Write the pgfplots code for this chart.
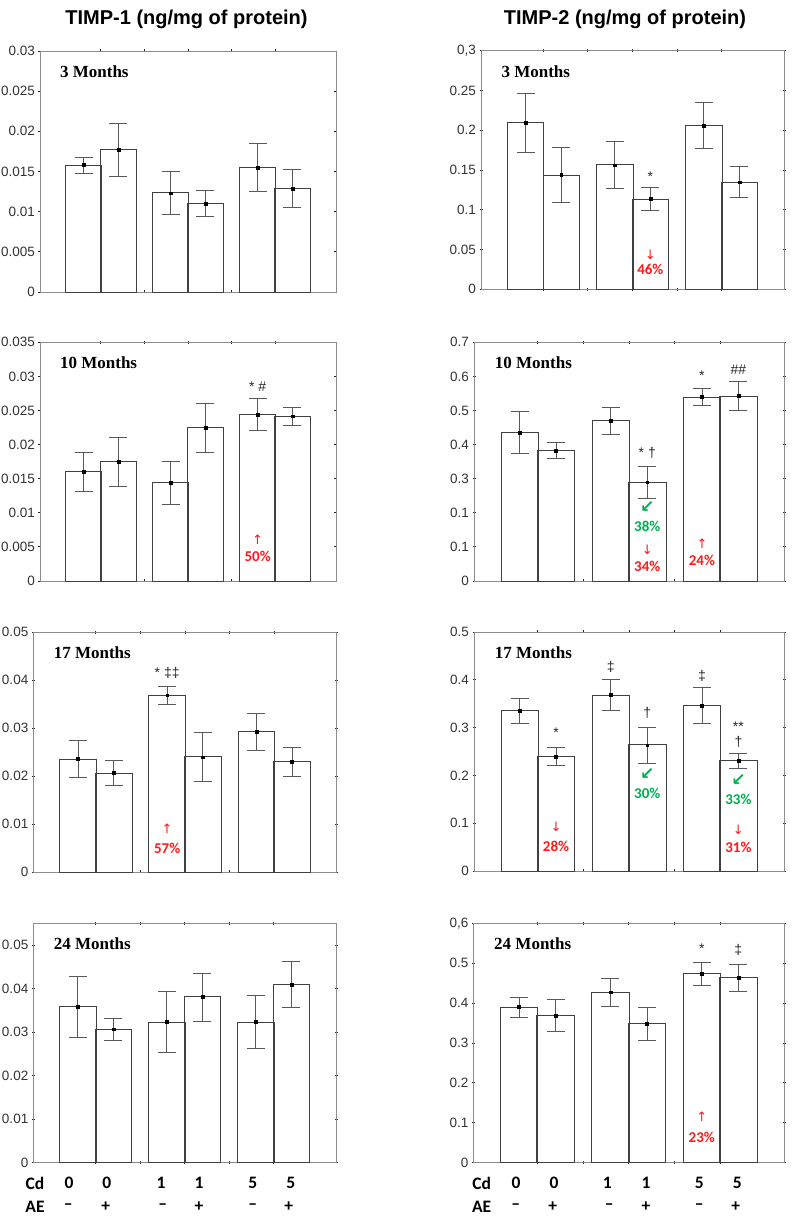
\documentclass[border=0pt]{standalone}
\usepackage{pgfplots}
\pgfplotsset{compat=1.18}
\usepackage{fontspec}
\setmainfont{Liberation Sans}
\newfontfamily\tnr{Liberation Serif}
\newfontfamily\carl{Carlito}
\newfontfamily\dv{DejaVu Sans}
\definecolor{annred}{HTML}{FF1A1A}
\definecolor{anngreen}{HTML}{00B050}
\pgfplotsset{
  panel/.style={scale only axis, anchor=south west, clip=false,
    xmin=0.3, xmax=3.7, ymin=0, scaled y ticks=false,
    xtick={1,1.5,2,2.5,3}, xticklabels={},
    tick align=center, major tick length=3pt,
    axis line style={black!45, line width=0.9pt},
    every tick/.style={black!85, line width=0.9pt},
    yticklabel style={font=\fontsize{13.5}{14}\selectfont, text=black!80},
  },
  bars/.style={ybar, bar width=0.41, bar shift=0pt, fill=white, draw=black!75, line width=0.8pt},
  errs/.style={only marks, black, mark=square*, mark size=1.4pt, mark options={black},
    error bars/.cd, y dir=both, y explicit,
    error bar style={black!65, line width=0.8pt},
    error mark options={black!65, line width=0.8pt, mark size=9pt, rotate=90}},
}
\newcommand{\plab}[1]{\node[anchor=west, font=\tnr\bfseries\fontsize{17}{17}\selectfont] at (rel axis cs:0.056,0.913) {#1};}
\newcommand{\sig}[3]{\node[inner sep=0pt, font=\fontsize{14}{14}\selectfont, text=black!85] at (axis cs:#1,#2) {#3};}
\newcommand{\pct}[4]{\node[inner sep=0pt, font=\carl\bfseries\fontsize{15}{14}\selectfont, text=#4] at (axis cs:#1,#2) {#3};}
\newcommand{\rarr}[3]{\node[inner sep=0pt, font=\dv\fontsize{13}{13}\selectfont, text=annred] at (axis cs:#1,#2) {#3};}
\newcommand{\garr}[2]{\node[inner sep=0pt, font=\dv\bfseries\fontsize{17}{17}\selectfont, text=anngreen] at (axis cs:#1,#2) {↙};}
\begin{document}
\begin{tikzpicture}
\path[use as bounding box] (0,0) rectangle (794pt,1217pt);
% titles
\node[font=\bfseries\fontsize{20}{20}\selectfont] at (186.5pt,1198pt) {TIMP-1 (ng/mg of protein)};
\node[font=\bfseries\fontsize{20}{20}\selectfont] at (625pt,1198pt) {TIMP-2 (ng/mg of protein)};

% ---------- L1 ----------
\begin{axis}[panel, at={(40pt,925pt)}, width=296pt, height=241pt, ymax=0.03,
  ytick={0,0.005,0.01,0.015,0.02,0.025,0.03},
  yticklabels={0,0.005,0.01,0.015,0.02,0.025,0.03}]
\addplot[bars] coordinates {(0.8,0.0158)(1.2,0.0177)(1.8,0.0124)(2.2,0.0110)(2.8,0.0155)(3.2,0.0129)};
\addplot[errs] coordinates {(0.8,0.0158)+-(0,0.0010)(1.2,0.0177)+-(0,0.0033)(1.8,0.0123)+-(0,0.0027)(2.2,0.0110)+-(0,0.0016)(2.8,0.0155)+-(0,0.0030)(3.2,0.01287)+-(0,0.0024)};
\plab{3 Months}
\end{axis}

% ---------- R1 ----------
\begin{axis}[panel, at={(481pt,927.7pt)}, width=303pt, height=238.6pt, ymax=0.3,
  ytick={0,0.05,0.1,0.15,0.2,0.25,0.3},
  yticklabels={0,0.05,0.1,0.15,0.2,0.25,{0,3}}]
\addplot[bars] coordinates {(0.8,0.210)(1.2,0.1437)(1.8,0.1567)(2.2,0.1135)(2.8,0.2057)(3.2,0.1349)};
\addplot[errs] coordinates {(0.8,0.2097)+-(0,0.037)(1.2,0.1442)+-(0,0.0348)(1.8,0.1561)+-(0,0.0296)(2.2,0.1138)+-(0,0.0141)(2.8,0.206)+-(0,0.0287)(3.2,0.1347)+-(0,0.0195)};
\plab{3 Months}
\sig{2.2}{0.1416}{*}
\rarr{2.2}{0.043}{↓}
\pct{2.2}{0.0255}{46\%}{annred}
\end{axis}

% ---------- L2 ----------
\begin{axis}[panel, at={(40pt,636pt)}, width=296pt, height=238.7pt, ymax=0.035,
  ytick={0,0.005,0.01,0.015,0.02,0.025,0.03,0.035},
  yticklabels={0,0.005,0.01,0.015,0.02,0.025,0.03,0.035}]
\addplot[bars] coordinates {(0.8,0.0160)(1.2,0.0175)(1.8,0.0144)(2.2,0.02254)(2.8,0.02439)(3.2,0.02415)};
\addplot[errs] coordinates {(0.8,0.0160)+-(0,0.0029)(1.2,0.0175)+-(0,0.0036)(1.8,0.0144)+-(0,0.0031)(2.2,0.02245)+-(0,0.0036)(2.8,0.0244)+-(0,0.00235)(3.2,0.02417)+-(0,0.0013)};
\plab{10 Months}
\sig{2.8}{0.0285}{* \#}
\rarr{2.8}{0.0061}{↑}
\pct{2.8}{0.0036}{50\%}{annred}
\end{axis}

% ---------- R2 ----------
\begin{axis}[panel, at={(474pt,636pt)}, width=310pt, height=238.7pt, ymax=0.7,
  ytick={0,0.1,0.2,0.3,0.4,0.5,0.6,0.7},
  yticklabels={0,0.1,0.1,0.3,0.4,0.5,0.6,0.7}]
\addplot[bars] coordinates {(0.8,0.435)(1.2,0.383)(1.8,0.470)(2.2,0.2894)(2.8,0.5396)(3.2,0.5425)};
\addplot[errs] coordinates {(0.8,0.4355)+-(0,0.061)(1.2,0.3827)+-(0,0.024)(1.8,0.4697)+-(0,0.0405)(2.2,0.290)+-(0,0.0474)(2.8,0.5396)+-(0,0.0244)(3.2,0.5431)+-(0,0.0425)};
\plab{10 Months}
\sig{2.8}{0.601}{*}
\sig{3.2}{0.619}{\#\#}
\sig{2.2}{0.377}{* †}
\garr{2.2}{0.216}
\pct{2.2}{0.159}{38\%}{anngreen}
\rarr{2.2}{0.091}{↓}
\pct{2.2}{0.042}{34\%}{annred}
\rarr{2.8}{0.11}{↑}
\pct{2.8}{0.0616}{24\%}{annred}
\end{axis}

% ---------- L3 ----------
\begin{axis}[panel, at={(33.3pt,345pt)}, width=303.4pt, height=239.7pt, ymax=0.05,
  ytick={0,0.01,0.02,0.03,0.04,0.05},
  yticklabels={0,0.01,0.02,0.03,0.04,0.05}]
\addplot[bars] coordinates {(0.8,0.02357)(1.2,0.02059)(1.8,0.03678)(2.2,0.02405)(2.8,0.02927)(3.2,0.0230)};
\addplot[errs] coordinates {(0.8,0.02357)+-(0,0.0039)(1.2,0.02065)+-(0,0.00265)(1.8,0.03686)+-(0,0.0019)(2.2,0.02395)+-(0,0.0051)(2.8,0.0292)+-(0,0.0038)(3.2,0.02298)+-(0,0.00295)};
\plab{17 Months}
\sig{1.8}{0.0416}{* ‡‡}
\rarr{1.8}{0.0091}{↑}
\pct{1.8}{0.0049}{57\%}{annred}
\end{axis}

% ---------- R3 ----------
\begin{axis}[panel, at={(474pt,346pt)}, width=310pt, height=239pt, ymax=0.5,
  ytick={0,0.1,0.2,0.3,0.4,0.5},
  yticklabels={0,0.1,0.2,0.3,0.4,0.5}]
\addplot[bars] coordinates {(0.8,0.3351)(1.2,0.2394)(1.8,0.368)(2.2,0.2639)(2.8,0.3456)(3.2,0.2304)};
\addplot[errs] coordinates {(0.8,0.3347)+-(0,0.026)(1.2,0.2398)+-(0,0.0185)(1.8,0.3683)+-(0,0.0317)(2.2,0.2633)+-(0,0.0377)(2.8,0.346)+-(0,0.038)(3.2,0.2304)+-(0,0.016)};
\plab{17 Months}
\sig{1.2}{0.29}{*}
\sig{1.8}{0.426}{‡}
\sig{2.2}{0.33}{†}
\sig{2.8}{0.4085}{‡}
\sig{3.2}{0.302}{**}
\sig{3.2}{0.27}{†}
\garr{2.2}{0.2025}
\pct{2.2}{0.163}{30\%}{anngreen}
\garr{3.2}{0.19}
\pct{3.2}{0.149}{33\%}{anngreen}
\rarr{1.2}{0.0915}{↓}
\pct{1.2}{0.051}{28\%}{annred}
\rarr{3.2}{0.086}{↓}
\pct{3.2}{0.049}{31\%}{annred}
\end{axis}

% ---------- L4 ----------
\begin{axis}[panel, at={(33.3pt,54.3pt)}, width=302.7pt, height=239.4pt, ymax=0.055,
  ytick={0,0.01,0.02,0.03,0.04,0.05},
  yticklabels={0,0.01,0.02,0.03,0.04,0.05}]
\addplot[bars] coordinates {(0.8,0.03586)(1.2,0.03057)(1.8,0.03234)(2.2,0.0381)(2.8,0.03234)(3.2,0.04085)};
\addplot[errs] coordinates {(0.8,0.0359)+-(0,0.0070)(1.2,0.03067)+-(0,0.0025)(1.8,0.03234)+-(0,0.0069)(2.2,0.03806)+-(0,0.0055)(2.8,0.03234)+-(0,0.0061)(3.2,0.0409)+-(0,0.0053)};
\plab{24 Months}
\end{axis}

% ---------- R4 ----------
\begin{axis}[panel, at={(473.3pt,54.3pt)}, width=310.7pt, height=239.4pt, ymax=0.6,
  ytick={0,0.1,0.2,0.3,0.4,0.5,0.6},
  yticklabels={0,0.1,0.2,0.3,0.4,0.5,{0,6}}]
\addplot[bars] coordinates {(0.8,0.390)(1.2,0.3694)(1.8,0.4278)(2.2,0.3484)(2.8,0.4737)(3.2,0.4647)};
\addplot[errs] coordinates {(0.8,0.39)+-(0,0.0255)(1.2,0.3694)+-(0,0.040)(1.8,0.4275)+-(0,0.0355)(2.2,0.348)+-(0,0.041)(2.8,0.4734)+-(0,0.029)(3.2,0.4638)+-(0,0.034)};
\plab{24 Months}
\sig{2.8}{0.537}{*}
\sig{3.2}{0.533}{‡}
\rarr{2.8}{0.115}{↑}
\pct{2.8}{0.0637}{23\%}{annred}
\end{axis}

% bottom group labels
\begin{scope}[every node/.style={font=\carl\bfseries\fontsize{17.5}{17}\selectfont}]
\node at (35pt,33.7pt) {Cd};
\node at (35pt,10.3pt) {AE};
\node at (69pt,33.7pt) {0};
\node at (106.7pt,33.7pt) {0};
\node at (161pt,33.7pt) {1};
\node at (199pt,33.7pt) {1};
\node at (252.7pt,33.7pt) {5};
\node at (290.7pt,33.7pt) {5};
\node at (68.3pt,10.3pt) {–};
\node at (105.7pt,10.3pt) {+};
\node at (162.7pt,10.3pt) {–};
\node at (199pt,10.3pt) {+};
\node at (252.7pt,10.3pt) {–};
\node at (288.7pt,10.3pt) {+};
\node at (481.7pt,33.7pt) {Cd};
\node at (481.7pt,10.3pt) {AE};
\node at (516pt,33.7pt) {0};
\node at (554pt,33.7pt) {0};
\node at (607.3pt,33.7pt) {1};
\node at (646pt,33.7pt) {1};
\node at (699.3pt,33.7pt) {5};
\node at (737.3pt,33.7pt) {5};
\node at (515.7pt,10.3pt) {–};
\node at (552.7pt,10.3pt) {+};
\node at (609.3pt,10.3pt) {–};
\node at (646pt,10.3pt) {+};
\node at (699.3pt,10.3pt) {–};
\node at (735.7pt,10.3pt) {+};
\end{scope}
\end{tikzpicture}
\end{document}
